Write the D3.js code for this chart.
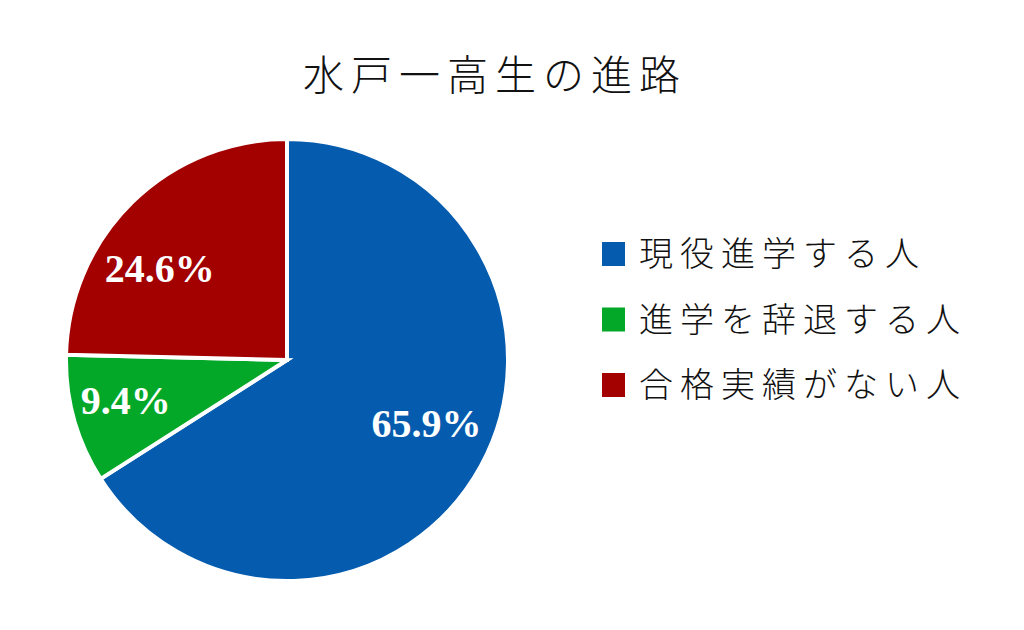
<!DOCTYPE html>
<html><head><meta charset="utf-8">
<script src="https://cdn.jsdelivr.net/npm/d3@7"></script>
<style>
html,body{margin:0;padding:0;background:#fff;}
svg{display:block;}
</style></head>
<body>
<svg id="chart" width="1024" height="630"></svg>
<script>
const title = "水戸一高生の進路";
const categories = ["現役進学する人", "進学を辞退する人", "合格実績がない人"];
const values = [65.9, 9.4, 24.6];
const labels = ["65.9%", "9.4%", "24.6%"];
const colors = ["#055CAE", "#04A828", "#A30000"];

const svg = d3.select("#chart");
const cx = 287, cy = 360, R = 221;
const labelOffsets = [[0, -14], [-8, -3], [-16, 22]];

svg.append("text")
  .attr("x", 495).attr("y", 90)
  .attr("text-anchor", "middle")
  .attr("font-family", "'Noto Sans CJK JP', sans-serif")
  .attr("font-weight", 300)
  .attr("font-size", 41)
  .attr("letter-spacing", "7px")
  .attr("fill", "#111")
  .text(title);

const pie = d3.pie().sort(null).value(d => d)(values);
const arc = d3.arc().innerRadius(0).outerRadius(R);
const labelArc = d3.arc().innerRadius(R * 0.72).outerRadius(R * 0.72);

const g = svg.append("g").attr("transform", `translate(${cx},${cy})`);
g.selectAll("path").data(pie).join("path")
  .attr("d", arc)
  .attr("fill", (d, i) => colors[i])
  .attr("stroke", "#fff")
  .attr("stroke-width", 4)
  .attr("stroke-linejoin", "miter");

g.selectAll("text.lbl").data(pie).join("text")
  .attr("class", "lbl")
  .attr("transform", (d, i) => {
    const c = labelArc.centroid(d);
    return `translate(${c[0] + labelOffsets[i][0]},${c[1] + labelOffsets[i][1]})`;
  })
  .attr("text-anchor", "middle")
  .attr("dy", "0.35em")
  .attr("font-family", "'Liberation Serif', 'Times New Roman', serif")
  .attr("font-weight", "bold")
  .attr("font-size", 40)
  .attr("fill", "#fff")
  .text((d, i) => labels[i]);

const legend = svg.append("g");
const ly = d3.scalePoint().domain(categories).range([254, 385]);
const items = legend.selectAll("g").data(categories).join("g")
  .attr("transform", d => `translate(602,${ly(d)})`);
items.append("rect")
  .attr("x", 0).attr("y", -12).attr("width", 23).attr("height", 24)
  .attr("fill", (d, i) => colors[i]);
items.append("text")
  .attr("x", 37).attr("y", 0).attr("dy", "0.36em")
  .attr("font-family", "'Noto Sans CJK JP', sans-serif")
  .attr("font-weight", 300)
  .attr("font-size", 34)
  .attr("letter-spacing", "7px")
  .attr("fill", "#111")
  .text(d => d);
</script>
</body></html>
